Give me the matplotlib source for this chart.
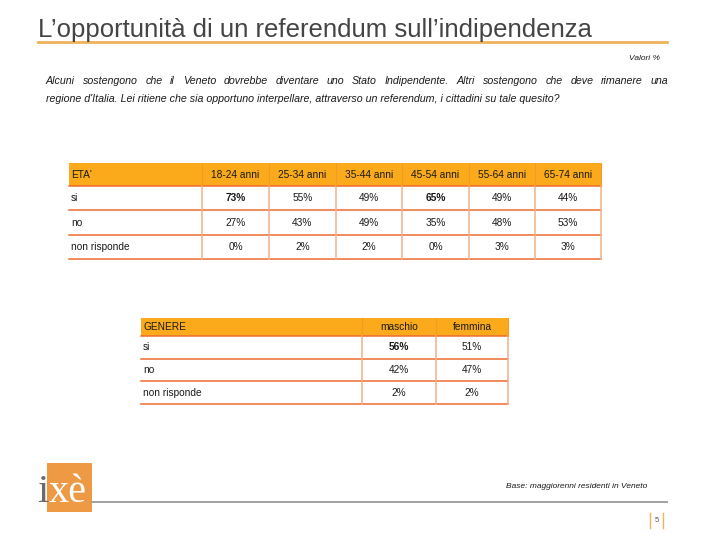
import matplotlib
matplotlib.use('Agg')
import matplotlib.pyplot as plt
from matplotlib.patches import Rectangle

plt.rcParams['font.family'] = ['Liberation Sans', 'DejaVu Sans']

title = "L\u2019opportunit\u00e0 di un referendum sull\u2019indipendenza"
question = ["Alcuni sostengono che il Veneto dovrebbe diventare uno Stato Indipendente. Altri sostengono che deve rimanere una",
            "regione d'Italia. Lei ritiene che sia opportuno interpellare, attraverso un referendum, i cittadini su tale quesito?"]
answers = ['si', 'no', 'non risponde']

age_groups = ['18-24 anni', '25-34 anni', '35-44 anni', '45-54 anni', '55-64 anni', '65-74 anni']
age_si = [73, 55, 49, 65, 49, 44]
age_no = [27, 43, 49, 35, 48, 53]
age_nr = [0, 2, 2, 0, 3, 3]
age_bold = ['18-24 anni', '45-54 anni']

genders = ['maschio', 'femmina']
gen_si = [56, 51]
gen_no = [42, 47]
gen_nr = [2, 2]
gen_bold = ['maschio']

ORANGE = '#FBAA1B'
LINE = '#EE6B2E'
VLINE = '#F4B08C'
TXT = '#1a1a1a'

fig = plt.figure(figsize=(7.2, 5.4), dpi=100)
ax = fig.add_axes([0, 0, 1, 1])
ax.set_xlim(0, 720)
ax.set_ylim(540, 0)
ax.axis('off')
renderer = fig.canvas.get_renderer()

# header
ax.text(38, 37, title, fontsize=18.5, color='#444444', va='baseline', ha='left')
ax.plot([38, 667], [42, 42], color='#F0B25A', lw=2)
ax.text(660, 58, 'Valori %', fontsize=6, style='italic', ha='right', va='center', color=TXT)

# first line justified, second left aligned
words = question[0].split(' ')
objs = [ax.text(0, 81, w, fontsize=7.65, style='italic', ha='left', va='center', color=TXT) for w in words]
widths = [o.get_window_extent(renderer).width for o in objs]
gap = (668 - 46 - sum(widths)) / (len(words) - 1)
x = 46
for o, w in zip(objs, widths):
    o.set_x(x)
    x += w + gap
ax.text(46, 99, question[1], fontsize=7.65, style='italic', ha='left', va='center', color=TXT)


def draw_table(x0, col_edges, row_edges, head, cols, rows, bold_cols):
    y0 = row_edges[0]
    x1 = col_edges[-1]
    ax.add_patch(Rectangle((x0, y0), x1 - x0, row_edges[1] - y0, color=ORANGE, lw=0))
    ax.text(x0 + 2, (row_edges[0] + row_edges[1]) / 2, head, fontsize=7.3, ha='left', va='center', color=TXT)
    for j, c in enumerate(cols):
        xc = (col_edges[j] + col_edges[j + 1]) / 2
        ax.text(xc, (row_edges[0] + row_edges[1]) / 2, c, fontsize=7.3, ha='center', va='center', color=TXT)
    for i, (lab, vals) in enumerate(rows):
        yc = (row_edges[i + 1] + row_edges[i + 2]) / 2
        ax.text(x0 + 2, yc, lab, fontsize=7.3, ha='left', va='center', color=TXT)
        for j, v in enumerate(vals):
            xc = (col_edges[j] + col_edges[j + 1]) / 2
            w = 'bold' if (i == 0 and cols[j] in bold_cols) else 'normal'
            ax.text(xc, yc, f'{v}%', fontsize=7.3, ha='center', va='center', color=TXT, weight=w)
    for y in row_edges[1:]:
        ax.plot([x0, x1], [y, y], color=LINE, lw=1.1)
    for x in col_edges:
        ax.plot([x, x], [row_edges[1], row_edges[-1]], color=VLINE, lw=1.1)
        ax.plot([x, x], [row_edges[0], row_edges[1]], color='#F39A2A', lw=0.8)


draw_table(69, [202, 269, 336, 402, 469, 535, 601], [163, 186, 210, 235, 259], "ETA'",
           age_groups, list(zip(answers, [age_si, age_no, age_nr])), age_bold)
draw_table(141, [362, 436, 508], [318, 336, 359, 381, 404], 'GENERE',
           genders, list(zip(answers, [gen_si, gen_no, gen_nr])), gen_bold)

# footer logo
ax.add_patch(Rectangle((47, 463), 45, 49, color='#EE9A45', lw=0))
ax.text(42.5, 502, 'i', fontsize=29, family='Liberation Serif', color='#6b6b6b', ha='center', va='baseline')
ax.text(49, 502, 'x\u00e8', fontsize=29, family='Liberation Serif', color='white', ha='left', va='baseline')
ax.plot([92, 667], [502, 502], color='#9a9a9a', lw=1.3)
ax.text(647, 487, 'Base: maggiorenni residenti in Veneto', fontsize=6, style='italic',
        ha='right', va='center', color=TXT)
ax.plot([650, 650], [513, 528], color='#F0B060', lw=1)
ax.plot([663, 663], [513, 528], color='#F0B060', lw=1)
ax.text(657, 520, '5', fontsize=5.5, ha='center', va='center', color='#555555')

fig.savefig('out.png', dpi=100)
